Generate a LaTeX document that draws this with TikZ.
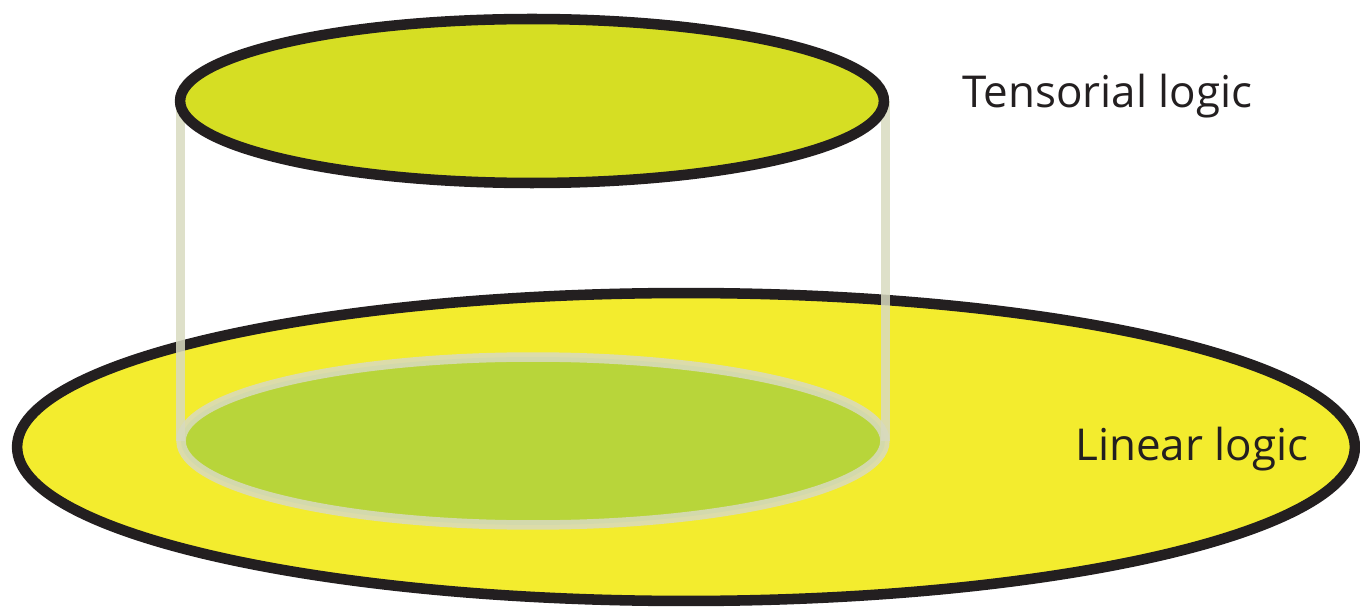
\documentclass[tikz,border=0pt]{standalone}
\usepackage{fontspec}
\setmainfont{Open Sans}
\usepackage{tikz}
\usetikzlibrary{positioning}
\definecolor{ink}{HTML}{231F20}
\definecolor{lin}{HTML}{F3EC2E}
\definecolor{tens}{HTML}{D6DE23}
\definecolor{foot}{HTML}{B8D53A}
\definecolor{wall}{RGB}{216,218,192}
\tikzset{
  disc/.style={draw=ink,line width=6pt},
  rim/.style={draw=wall,draw opacity=0.85,line width=5.4pt},
  lbl/.style={font=\fontsize{25}{30}\selectfont,text=ink,anchor=base west,inner sep=0pt},
}

\begin{document}
\begin{tikzpicture}[x=0.02cm,y=-0.02cm]
  \useasboundingbox (0,0) rectangle (1360,611);
  \coordinate (lc) at (686,447);
  \coordinate (tc) at (532,101);
  \coordinate (fc) at (533,441);
  % linear logic
  \draw[disc,fill=lin] (lc) ellipse [x radius=13.38cm,y radius=3.08cm];
  \fill[foot] (fc) ellipse [x radius=7.04cm,y radius=1.68cm];
  \draw[rim] (fc) ellipse [x radius=7.04cm,y radius=1.68cm];
  % cylinder walls
  \coordinate (tl) at (180.5,101); \coordinate (bl) at (180.5,441);
  \coordinate (tr) at (885.5,101); \coordinate (br) at (885.5,441);
  \draw[rim] (tl) -- (bl);
  \draw[rim] (tr) -- (br);
  % tensorial logic
  \draw[disc,fill=tens] (tc) ellipse [x radius=7.04cm,y radius=1.64cm];
  \node[lbl] (tens) at (962,108) {Tensorial logic};
  \node[lbl] (lin) at (1075,460) {Linear logic};
\end{tikzpicture}
\end{document}
